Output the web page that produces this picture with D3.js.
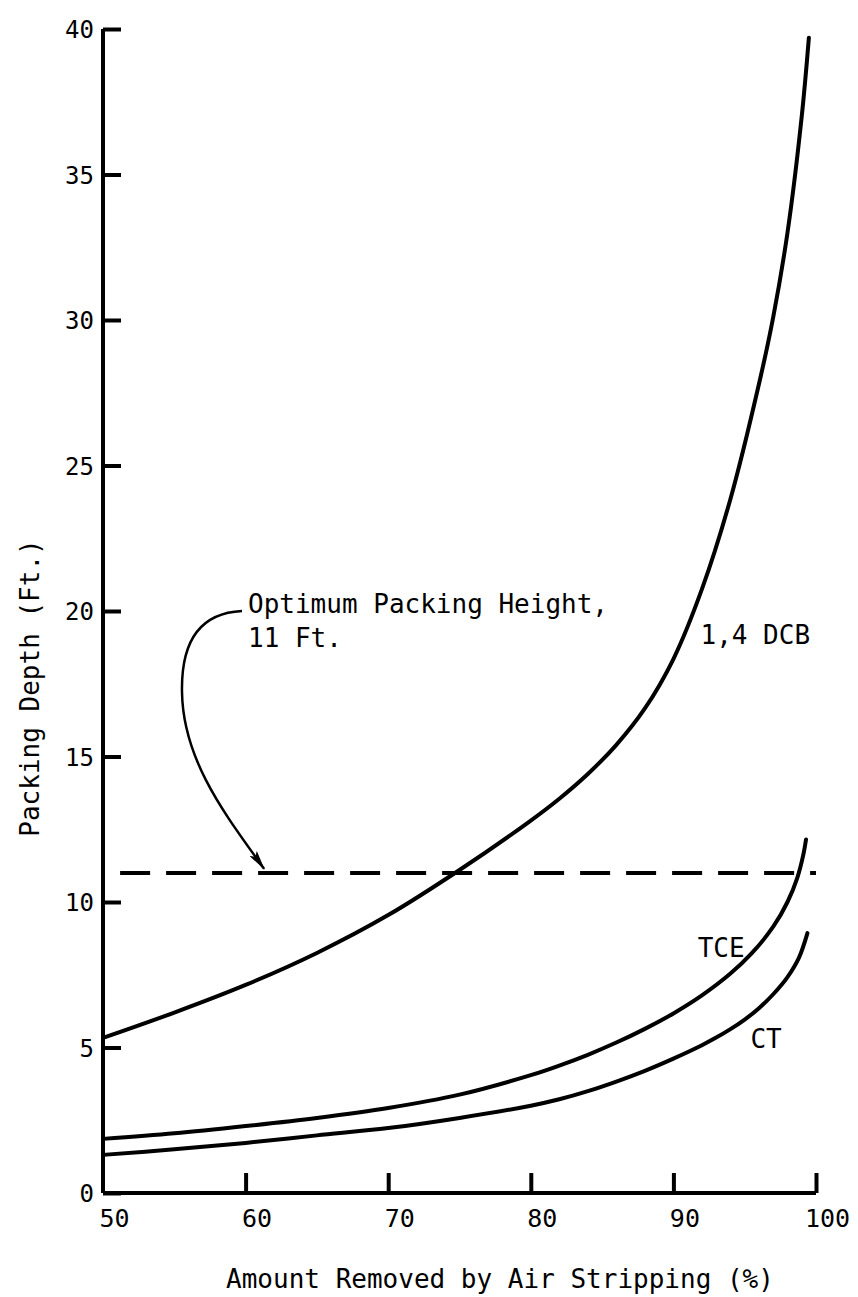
<!DOCTYPE html>
<html>
<head>
<meta charset="utf-8">
<script src="https://cdn.jsdelivr.net/npm/d3@7/dist/d3.min.js"></script>
<style>
  html, body { margin: 0; padding: 0; background: #fff; }
  svg { display: block; }
  text { font-family: "DejaVu Sans Mono", "Liberation Mono", monospace; fill: #000; }
</style>
</head>
<body>
<script>
// Percent removed (x) and packing depth in feet (y) for each compound
const dcbRemoved = [50, 55, 60, 65, 70, 75, 80, 82, 84, 86, 88, 90, 92, 94, 96, 97, 98, 99, 99.5];
const dcbDepth   = [5.33, 6.2, 7.15, 8.25, 9.55, 11.1, 12.8, 13.55, 14.4, 15.4, 16.65, 18.35, 20.75, 23.85, 27.8, 30.1, 33.0, 37.0, 39.7];

const tceRemoved = [50, 55, 60, 65, 70, 75, 80, 82, 84, 86, 88, 90, 92, 94, 95.5, 97, 98, 98.7, 99.1, 99.3];
const tceDepth   = [1.86, 2.05, 2.3, 2.58, 2.92, 3.38, 4.05, 4.38, 4.75, 5.17, 5.64, 6.17, 6.79, 7.54, 8.24, 9.15, 10.0, 10.85, 11.6, 12.15];

const ctRemoved = [50, 55, 60, 65, 70, 75, 80, 82, 84, 86, 88, 90, 92, 93, 94, 95, 96, 97, 98, 98.8, 99.4];
const ctDepth   = [1.31, 1.5, 1.72, 1.98, 2.23, 2.58, 3.0, 3.22, 3.5, 3.83, 4.2, 4.62, 5.08, 5.34, 5.63, 5.96, 6.35, 6.83, 7.42, 8.08, 8.93];

const xTicks = [50, 60, 70, 80, 90, 100];
const yTicks = [0, 5, 10, 15, 20, 25, 30, 35, 40];

const optimumHeight = 11;          // ft, dashed reference line
const optimumSpan = [51.2, 100];   // % range covered by the dashed line

const W = 858, H = 1297;
const svg = d3.select("body").append("svg").attr("width", W).attr("height", H);

const x = d3.scaleLinear().domain([50, 100]).range([103, 816]);
const y = d3.scaleLinear().domain([0, 40]).range([1193, 29]);

// Axes
const yAxis = d3.axisLeft(y).tickValues(yTicks).tickSize(-18).tickPadding(0).tickFormat(d3.format("d"));
const gy = svg.append("g").attr("transform", `translate(${x(50)},0)`).call(yAxis);
gy.select(".domain").attr("stroke", "#000").attr("stroke-width", 4).attr("d", `M0,${y(0)}V${y(40)}`);
gy.selectAll(".tick line").attr("stroke", "#000").attr("stroke-width", 4);
gy.selectAll(".tick text")
  .attr("x", -9).attr("dy", "0.36em")
  .style("font-size", "24px").style("font-family", "DejaVu Sans Mono");

const xAxis = d3.axisBottom(x).tickValues(xTicks).tickSize(-20).tickPadding(0).tickFormat(d3.format("d"));
const gx = svg.append("g").attr("transform", `translate(0,${y(0)})`).call(xAxis);
gx.select(".domain").attr("stroke", "#000").attr("stroke-width", 4).attr("d", `M${x(50)},0H${x(100)}`);
gx.selectAll(".tick line").attr("stroke", "#000").attr("stroke-width", 4)
  .attr("display", d => d === 50 ? "none" : null);
gx.selectAll(".tick text")
  .attr("x", 11).attr("y", 34).attr("dy", 0)
  .style("font-size", "25px").style("font-family", "DejaVu Sans Mono");

// Axis titles
svg.append("text")
  .attr("x", 500).attr("y", 1288)
  .attr("text-anchor", "middle")
  .style("font-size", "26px")
  .text("Amount Removed by Air Stripping (%)");

svg.append("text")
  .attr("transform", "translate(39,688) rotate(-90)")
  .attr("text-anchor", "middle")
  .style("font-size", "26px")
  .text("Packing Depth (Ft.)");

// Curves
const line = d3.line().x(d => x(d[0])).y(d => y(d[1])).curve(d3.curveCatmullRom.alpha(0.5));
const series = [
  d3.zip(dcbRemoved, dcbDepth),
  d3.zip(tceRemoved, tceDepth),
  d3.zip(ctRemoved, ctDepth)
];
svg.append("g").selectAll("path").data(series).join("path")
  .attr("d", line)
  .attr("fill", "none")
  .attr("stroke", "#000")
  .attr("stroke-width", 4)
  .attr("stroke-linecap", "round");

// Optimum packing height line
svg.append("line")
  .attr("x1", x(optimumSpan[0])).attr("x2", x(optimumSpan[1]))
  .attr("y1", y(optimumHeight)).attr("y2", y(optimumHeight))
  .attr("stroke", "#000").attr("stroke-width", 4)
  .attr("stroke-dasharray", "30 16");

// Curve labels
const labels = [
  { text: "1,4 DCB", px: 91.9, py: 18.85 },
  { text: "TCE", px: 91.7, py: 8.1 },
  { text: "CT", px: 95.4, py: 5.0 }
];
svg.append("g").selectAll("text").data(labels).join("text")
  .attr("x", d => x(d.px)).attr("y", d => y(d.py))
  .style("font-size", "26px")
  .text(d => d.text);

// Annotation with curved leader arrow
const note = svg.append("g");
note.append("text").attr("x", 248).attr("y", 613).style("font-size", "26px").text("Optimum Packing Height,");
note.append("text").attr("x", 248).attr("y", 647).style("font-size", "26px").text("11 Ft.");

svg.append("defs").append("marker")
  .attr("id", "arrowhead")
  .attr("viewBox", "0 0 20 9")
  .attr("refX", 19).attr("refY", 4.5)
  .attr("markerWidth", 20).attr("markerHeight", 9)
  .attr("markerUnits", "userSpaceOnUse")
  .attr("orient", "auto")
  .append("path").attr("d", "M0,0L20,4.5L0,9L4,4.5Z").attr("fill", "#000");

const tipX = x(61.3), tipY = y(optimumHeight) - 4;
note.append("path")
  .attr("d", `M242,611 C200,613 181,642 182,692 C183,762 228,818 ${tipX},${tipY}`)
  .attr("fill", "none")
  .attr("stroke", "#000")
  .attr("stroke-width", 2.5)
  .attr("marker-end", "url(#arrowhead)");
</script>
</body>
</html>
